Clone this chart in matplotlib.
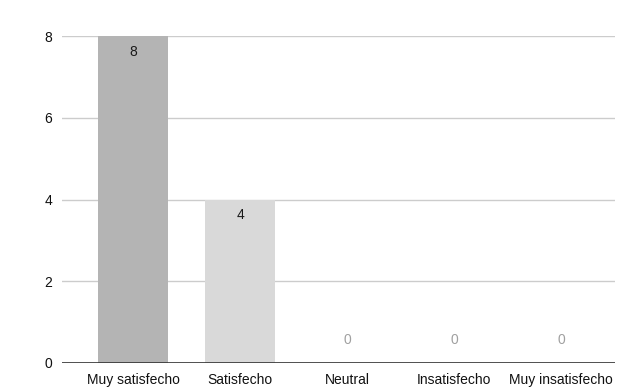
import matplotlib
matplotlib.use("Agg")
import matplotlib.pyplot as plt

categories = ["Muy satisfecho", "Satisfecho", "Neutral", "Insatisfecho", "Muy insatisfecho"]
counts = [8, 4, 0, 0, 0]
bar_colors = ["#b4b4b4", "#d9d9d9", "#cccccc", "#cccccc", "#cccccc"]
y_ticks = [0, 2, 4, 6, 8]

plt.rcParams["font.family"] = ["Liberation Sans", "DejaVu Sans"]

fig = plt.figure(figsize=(6.28, 3.89), dpi=100, facecolor="#ffffff")
ax = fig.add_axes([62 / 628, 26 / 389, 553 / 628, 327 / 389])
ax.set_facecolor("#ffffff")

x = list(range(len(categories)))
ax.bar(x, counts, width=0.654, color=bar_colors, zorder=2)

for xi, v in zip(x, counts):
    if v > 0:
        ax.annotate(str(v), (xi, v), xytext=(0, -11.5), textcoords="offset points",
                    ha="center", va="center", fontsize=10, color="#1a1a1a", zorder=3)
    else:
        ax.annotate(str(v), (xi, v), xytext=(0, 16.5), textcoords="offset points",
                    ha="center", va="center", fontsize=10, color="#a0a0a0", zorder=3)

ax.set_xlim(-0.664, 4.505)
ax.set_ylim(0, 8)
ax.set_yticks(y_ticks)
ax.set_yticklabels([str(t) for t in y_ticks])
ax.set_xticks(x)
ax.set_xticklabels(categories)

ax.grid(axis="y", color="#cccccc", linewidth=1, zorder=0)
ax.axhline(0, color="#333333", linewidth=1.2, zorder=4)
for s in ax.spines.values():
    s.set_visible(False)
ax.tick_params(axis="both", length=0, labelsize=10, colors="#111111")
ax.tick_params(axis="y", pad=7)
ax.tick_params(axis="x", pad=7.5)

fig.savefig("out.png", dpi=100, facecolor=fig.get_facecolor())
